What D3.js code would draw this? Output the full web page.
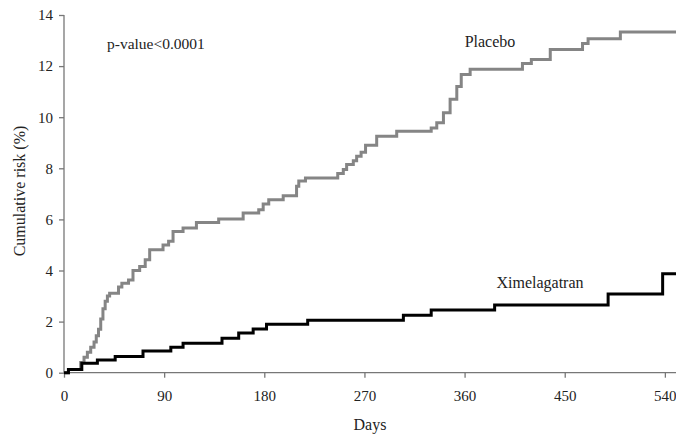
<!DOCTYPE html>
<html><head><meta charset="utf-8">
<script src="https://cdn.jsdelivr.net/npm/d3@7"></script>
<style>
html,body{margin:0;padding:0;background:#fff;}
svg{display:block;}
text{font-family:"Liberation Serif","Times New Roman",serif;fill:#222;}
</style></head>
<body>
<svg id="c" width="676" height="434"></svg>
<script>
// Placebo: step days and cumulative risk (%) after each step
const placeboDays = [0,4,13,15,18,21,24,27,29,31,33,35,37,39,41,49,52,58,62,68,73,77,89,94,98,107,119,139,161,175,179,184,197,209,211,217,246,251,254,260,263,267,271,281,299,330,335,341,347,353,357,365,412,420,437,466,471,500,550];
const placeboRisk = [0,0.13,0.13,0.4,0.6,0.8,1.0,1.2,1.45,1.7,2.1,2.5,2.8,3.0,3.11,3.35,3.5,3.63,4.0,4.16,4.42,4.81,5.0,5.14,5.53,5.66,5.88,6.02,6.25,6.38,6.6,6.77,6.93,7.3,7.5,7.62,7.8,7.95,8.15,8.3,8.47,8.63,8.9,9.25,9.45,9.58,9.78,10.17,10.7,11.2,11.67,11.88,12.1,12.26,12.65,12.88,13.07,13.33,13.33];
// Ximelagatran
const ximDays = [0,4,16,30,46,71,96,107,142,157,170,182,219,305,330,387,489,538,550];
const ximRisk = [0,0.13,0.37,0.5,0.63,0.85,1.0,1.15,1.35,1.55,1.71,1.9,2.05,2.25,2.45,2.65,3.08,3.87,3.87];
const xTicks = [0,90,180,270,360,450,540];
const yTicks = [0,2,4,6,8,10,12,14];

const svg = d3.select("#c");
const x = d3.scaleLinear().domain([0,550]).range([64,676]);
const y = d3.scaleLinear().domain([0,14]).range([372.7,15]);

const axisColor = "#777";
// y axis
const gy = svg.append("g").attr("transform","translate(64,0)")
  .call(d3.axisLeft(y).tickValues(yTicks).tickSize(5).tickPadding(6).tickFormat(d3.format("d")));
// x axis
const gx = svg.append("g").attr("transform","translate(0,372.7)")
  .call(d3.axisBottom(x).tickValues(xTicks).tickSize(5).tickPadding(13).tickFormat(d3.format("d")));
[gx,gy].forEach(g=>{
  g.select(".domain").attr("stroke",axisColor).attr("stroke-width",1.3);
  g.selectAll(".tick line").attr("stroke",axisColor).attr("stroke-width",1.3);
  g.selectAll(".tick text").style("font-family","'Liberation Serif',serif").style("font-size","15px").attr("fill","#222");
});
gx.select(".domain").attr("d","M64,0H676");
gy.select(".domain").attr("d","M0,372.7V15");

const line = d3.line().curve(d3.curveStepAfter).x(d=>x(d[0])).y(d=>y(d[1]));
svg.append("path").datum(placeboDays.map((d,i)=>[d,placeboRisk[i]]))
  .attr("d",line).attr("fill","none").attr("stroke","#858585").attr("stroke-width",3);
svg.append("path").datum(ximDays.map((d,i)=>[d,ximRisk[i]]))
  .attr("d",line).attr("fill","none").attr("stroke","#000").attr("stroke-width",3);

svg.append("text").attr("x",107).attr("y",49).style("font-size","15.5px").text("p-value<0.0001");
svg.append("text").attr("x",490).attr("y",47).attr("text-anchor","middle").style("font-size","16px").text("Placebo");
svg.append("text").attr("x",540).attr("y",288).attr("text-anchor","middle").style("font-size","16px").text("Ximelagatran");
svg.append("text").attr("x",370).attr("y",430).attr("text-anchor","middle").style("font-size","16px").text("Days");
svg.append("text").attr("transform","translate(25,191) rotate(-90)").attr("text-anchor","middle").style("font-size","16px").text("Cumulative risk (%)");
</script>
</body></html>
